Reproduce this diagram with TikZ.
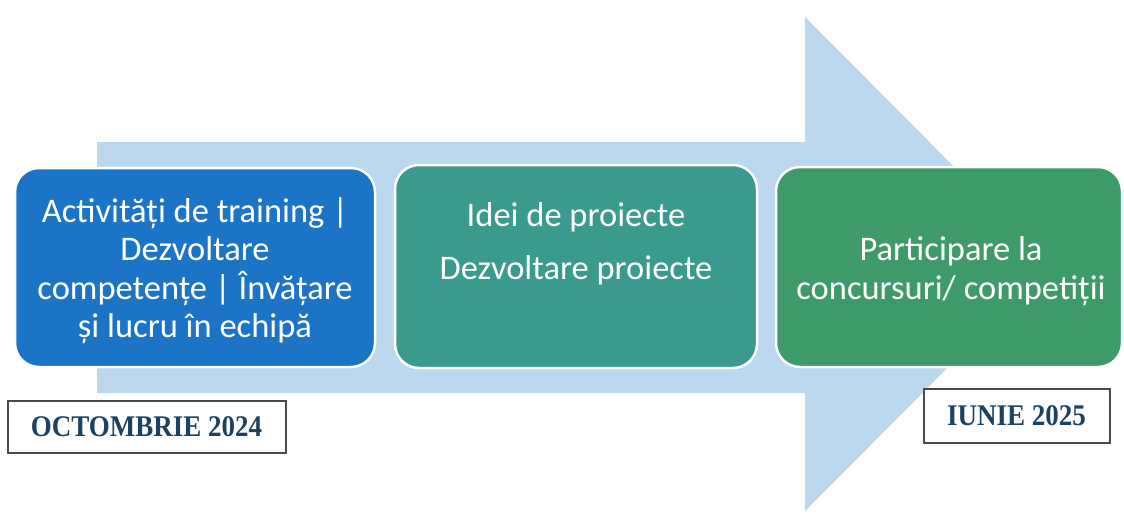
\documentclass[tikz,border=0pt]{standalone}
\usepackage{fontspec}
\setmainfont{Carlito}
\newfontfamily\datefont[FakeStretch=0.9]{Liberation Serif}
\definecolor{arrowbg}{HTML}{BBD8EE}
\definecolor{cblue}{HTML}{1C74C6}
\definecolor{cteal}{HTML}{3B9A8E}
\definecolor{cgreen}{HTML}{3E9B69}
\definecolor{datetxt}{HTML}{1A4263}
\definecolor{dateframe}{HTML}{4A4A4A}
\begin{document}
\begin{tikzpicture}[x=1pt,y=-1pt,
  stagebox/.style={draw=white,line width=2.5pt,rounded corners=24pt,inner sep=0pt},
  stagetext/.style={text=white,font=\fontsize{34.5}{38.5}\selectfont,align=center,inner sep=0pt},
  datebox/.style={draw=dateframe,line width=2pt,fill=white,inner sep=0pt,
    font=\datefont\bfseries\fontsize{30}{34}\selectfont,text=datetxt}]
\useasboundingbox (0,0) rectangle (1124,514);
\fill[white] (0,0) rectangle (1124,514);
% big arrow
\fill[arrowbg] (97,142) -- (805,142) -- (805,17) -- (1051,264) -- (805,511) -- (805,393) -- (97,393) -- cycle;
% stage boxes
\node[stagebox,fill=cblue,minimum width=360pt,minimum height=199pt] (b1) at (195,267.5) {};
\node[stagebox,fill=cteal,minimum width=362pt,minimum height=203pt] (b2) at (576,266.5) {};
\node[stagebox,fill=cgreen,minimum width=346pt,minimum height=200pt] (b3) at (949,267) {};
% texts
\node[stagetext] (t1) at (195,270.5) {Activități de training |\\Dezvoltare\\competențe | Învățare\\și lucru în echipă};
\node[stagetext] (t2a) at (576,217) {Idei de proiecte};
\node[stagetext] (t2b) at (576,270) {Dezvoltare proiecte};
\node[stagetext] (t3) at (951,271) {Participare la\\concursuri/ competiții};
% date boxes
\node[datebox,minimum width=278pt,minimum height=52pt] (d1) at (146.5,426.5) {OCTOMBRIE 2024};
\node[datebox,minimum width=186pt,minimum height=54pt] (d2) at (1016.5,415.5) {IUNIE 2025};
\end{tikzpicture}
\end{document}
